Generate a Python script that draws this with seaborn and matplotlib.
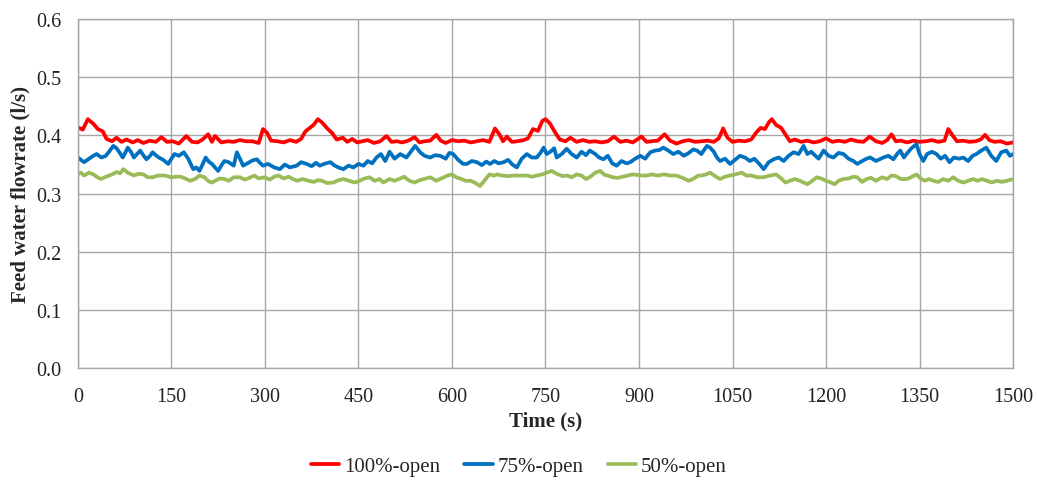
import matplotlib
matplotlib.use("Agg")
import matplotlib.pyplot as plt
import pandas as pd
import seaborn as sns

# (time s, flowrate l/s)
open_100 = [(0, 0.414), (8, 0.41), (16, 0.428), (25, 0.42), (32, 0.411), (40, 0.407), (46, 0.394), (55, 0.39),
            (62, 0.396), (70, 0.389), (78, 0.393), (88, 0.388), (96, 0.392), (105, 0.387), (115, 0.391), (125, 0.389),
            (134, 0.397), (143, 0.389), (152, 0.39), (162, 0.386), (174, 0.399), (183, 0.389), (192, 0.388), (200, 0.393),
            (209, 0.402), (215, 0.389), (220, 0.399), (230, 0.388), (240, 0.39), (250, 0.389), (260, 0.392), (270, 0.39),
            (280, 0.39), (290, 0.387), (297, 0.411), (303, 0.405), (310, 0.391), (320, 0.39), (330, 0.388), (340, 0.392),
            (350, 0.389), (358, 0.394), (365, 0.407), (372, 0.413), (378, 0.418), (385, 0.428), (392, 0.422), (400, 0.412),
            (408, 0.404), (415, 0.393), (425, 0.396), (432, 0.389), (440, 0.394), (448, 0.388), (456, 0.39), (465, 0.392),
            (475, 0.387), (485, 0.39), (495, 0.399), (503, 0.389), (512, 0.39), (520, 0.388), (530, 0.391), (540, 0.397),
            (548, 0.388), (556, 0.39), (565, 0.391), (575, 0.401), (582, 0.391), (590, 0.387), (600, 0.392), (610, 0.39),
            (620, 0.391), (630, 0.388), (640, 0.39), (650, 0.392), (660, 0.389), (669, 0.412), (676, 0.402), (682, 0.39),
            (688, 0.398), (696, 0.389), (705, 0.39), (715, 0.392), (722, 0.395), (730, 0.411), (738, 0.408), (745, 0.425),
            (750, 0.428), (757, 0.421), (765, 0.406), (773, 0.393), (782, 0.39), (790, 0.396), (800, 0.389), (810, 0.392),
            (820, 0.389), (830, 0.39), (840, 0.388), (850, 0.39), (860, 0.398), (870, 0.389), (880, 0.391), (890, 0.388),
            (904, 0.398), (912, 0.389), (920, 0.39), (930, 0.391), (941, 0.402), (950, 0.391), (960, 0.386), (970, 0.39),
            (980, 0.392), (990, 0.389), (1000, 0.39), (1010, 0.391), (1020, 0.389), (1028, 0.395), (1035, 0.412),
            (1042, 0.396), (1050, 0.389), (1060, 0.391), (1070, 0.39), (1080, 0.393), (1088, 0.405), (1095, 0.413),
            (1102, 0.411), (1108, 0.422), (1113, 0.428), (1120, 0.418), (1128, 0.413), (1136, 0.4), (1142, 0.39),
            (1150, 0.393), (1160, 0.389), (1170, 0.391), (1180, 0.388), (1190, 0.39), (1200, 0.395), (1210, 0.389),
            (1220, 0.391), (1230, 0.389), (1240, 0.393), (1250, 0.39), (1260, 0.389), (1270, 0.398), (1280, 0.39),
            (1290, 0.387), (1298, 0.392), (1305, 0.402), (1312, 0.39), (1320, 0.391), (1330, 0.388), (1340, 0.391),
            (1350, 0.389), (1360, 0.39), (1370, 0.392), (1380, 0.389), (1390, 0.391), (1396, 0.411), (1403, 0.4),
            (1410, 0.39), (1420, 0.391), (1430, 0.389), (1440, 0.39), (1448, 0.393), (1455, 0.401), (1462, 0.392),
            (1470, 0.389), (1480, 0.39), (1490, 0.386), (1500, 0.388)]

open_75 = [(0, 0.362), (5, 0.358), (10, 0.354), (18, 0.36), (25, 0.365), (30, 0.368), (38, 0.362), (45, 0.365),
           (52, 0.375), (57, 0.382), (62, 0.378), (66, 0.372), (72, 0.362), (76, 0.37), (80, 0.379), (85, 0.372),
           (90, 0.362), (95, 0.368), (100, 0.374), (105, 0.366), (110, 0.359), (115, 0.364), (120, 0.371), (125, 0.366),
           (130, 0.362), (137, 0.358), (145, 0.351), (150, 0.36), (155, 0.368), (162, 0.365), (170, 0.371), (177, 0.36),
           (185, 0.342), (190, 0.345), (195, 0.339), (200, 0.35), (205, 0.362), (210, 0.355), (215, 0.351), (220, 0.345),
           (225, 0.339), (230, 0.348), (235, 0.356), (242, 0.354), (250, 0.348), (255, 0.371), (260, 0.36), (265, 0.348),
           (272, 0.352), (280, 0.357), (287, 0.359), (292, 0.353), (297, 0.348), (305, 0.351), (315, 0.345), (324, 0.342),
           (332, 0.35), (340, 0.345), (351, 0.348), (358, 0.354), (367, 0.351), (375, 0.347), (382, 0.353), (388, 0.348),
           (395, 0.351), (405, 0.354), (412, 0.348), (420, 0.344), (426, 0.342), (434, 0.348), (442, 0.345), (450, 0.351),
           (458, 0.348), (465, 0.356), (472, 0.352), (479, 0.362), (486, 0.368), (493, 0.356), (500, 0.372), (508, 0.36),
           (517, 0.368), (527, 0.362), (534, 0.372), (541, 0.382), (549, 0.371), (556, 0.365), (565, 0.362), (573, 0.366),
           (581, 0.365), (590, 0.36), (596, 0.37), (602, 0.368), (610, 0.358), (618, 0.351), (624, 0.351), (632, 0.356),
           (640, 0.354), (648, 0.349), (655, 0.355), (661, 0.351), (668, 0.356), (675, 0.352), (683, 0.354), (690, 0.358),
           (697, 0.35), (704, 0.345), (712, 0.36), (720, 0.368), (728, 0.362), (736, 0.362), (742, 0.37), (747, 0.379),
           (752, 0.368), (758, 0.372), (764, 0.378), (768, 0.362), (776, 0.368), (784, 0.377), (792, 0.368), (800, 0.362),
           (808, 0.372), (815, 0.366), (821, 0.374), (830, 0.368), (836, 0.362), (843, 0.359), (850, 0.365), (857, 0.352),
           (864, 0.348), (872, 0.356), (880, 0.352), (886, 0.354), (894, 0.36), (902, 0.365), (910, 0.36), (918, 0.371),
           (926, 0.374), (933, 0.375), (939, 0.379), (947, 0.374), (955, 0.368), (963, 0.372), (972, 0.365), (980, 0.37),
           (987, 0.376), (993, 0.374), (1000, 0.368), (1009, 0.382), (1014, 0.379), (1020, 0.372), (1025, 0.362),
           (1030, 0.356), (1038, 0.36), (1046, 0.351), (1054, 0.358), (1062, 0.365), (1070, 0.362), (1078, 0.356),
           (1085, 0.36), (1092, 0.352), (1100, 0.342), (1108, 0.354), (1116, 0.359), (1124, 0.362), (1132, 0.356),
           (1140, 0.365), (1148, 0.371), (1156, 0.368), (1164, 0.382), (1170, 0.368), (1176, 0.372), (1180, 0.368),
           (1188, 0.36), (1196, 0.374), (1204, 0.365), (1212, 0.362), (1220, 0.37), (1228, 0.368), (1236, 0.36),
           (1244, 0.356), (1250, 0.351), (1258, 0.356), (1265, 0.36), (1271, 0.362), (1280, 0.356), (1292, 0.362),
           (1300, 0.365), (1308, 0.359), (1314, 0.368), (1319, 0.374), (1325, 0.362), (1329, 0.368), (1337, 0.378),
           (1345, 0.385), (1350, 0.368), (1356, 0.356), (1362, 0.368), (1370, 0.372), (1377, 0.368), (1384, 0.36),
           (1391, 0.365), (1398, 0.354), (1405, 0.362), (1413, 0.36), (1420, 0.362), (1428, 0.356), (1435, 0.365),
           (1441, 0.368), (1449, 0.374), (1457, 0.379), (1465, 0.365), (1473, 0.356), (1481, 0.371), (1489, 0.374),
           (1495, 0.365), (1500, 0.368)]

open_50 = [(0, 0.333), (5, 0.336), (10, 0.331), (18, 0.336), (25, 0.333), (30, 0.329), (37, 0.325), (45, 0.329),
           (55, 0.333), (62, 0.337), (68, 0.335), (73, 0.342), (80, 0.336), (90, 0.331), (97, 0.334), (105, 0.333),
           (112, 0.328), (120, 0.328), (128, 0.331), (140, 0.331), (150, 0.328), (158, 0.329), (165, 0.329), (172, 0.326),
           (180, 0.322), (188, 0.325), (195, 0.331), (203, 0.328), (210, 0.321), (215, 0.319), (222, 0.323), (228, 0.326),
           (235, 0.325), (242, 0.322), (250, 0.328), (260, 0.328), (268, 0.324), (275, 0.327), (283, 0.331), (290, 0.326),
           (300, 0.328), (308, 0.324), (315, 0.329), (322, 0.331), (330, 0.326), (338, 0.329), (345, 0.325), (352, 0.322),
           (360, 0.325), (370, 0.322), (378, 0.32), (385, 0.323), (392, 0.322), (400, 0.318), (410, 0.319), (418, 0.323),
           (426, 0.325), (435, 0.322), (444, 0.319), (452, 0.322), (460, 0.326), (468, 0.328), (476, 0.322), (484, 0.325),
           (490, 0.319), (500, 0.325), (508, 0.322), (515, 0.325), (523, 0.329), (532, 0.322), (540, 0.319), (548, 0.323),
           (555, 0.325), (565, 0.328), (575, 0.322), (585, 0.327), (593, 0.331), (600, 0.333), (607, 0.328), (615, 0.325),
           (622, 0.322), (630, 0.322), (638, 0.318), (645, 0.313), (652, 0.322), (660, 0.333), (667, 0.331), (673, 0.333),
           (680, 0.331), (690, 0.33), (700, 0.331), (710, 0.331), (720, 0.331), (728, 0.329), (736, 0.331), (745, 0.333),
           (752, 0.336), (760, 0.339), (766, 0.335), (770, 0.333), (778, 0.33), (785, 0.331), (792, 0.328), (800, 0.333),
           (808, 0.331), (815, 0.325), (822, 0.329), (830, 0.336), (838, 0.339), (845, 0.332), (850, 0.331), (858, 0.328),
           (866, 0.327), (874, 0.329), (882, 0.331), (890, 0.333), (898, 0.332), (905, 0.331), (913, 0.331), (920, 0.333),
           (930, 0.331), (940, 0.333), (950, 0.331), (960, 0.331), (970, 0.327), (980, 0.322), (988, 0.326), (995, 0.331),
           (1000, 0.331), (1008, 0.333), (1014, 0.336), (1022, 0.33), (1030, 0.325), (1038, 0.329), (1046, 0.331),
           (1054, 0.333), (1065, 0.336), (1072, 0.331), (1080, 0.331), (1090, 0.328), (1100, 0.328), (1110, 0.331),
           (1120, 0.333), (1128, 0.326), (1135, 0.319), (1142, 0.322), (1150, 0.325), (1158, 0.322), (1164, 0.319),
           (1170, 0.316), (1178, 0.322), (1185, 0.328), (1192, 0.326), (1200, 0.322), (1208, 0.319), (1214, 0.316),
           (1220, 0.322), (1228, 0.325), (1236, 0.326), (1244, 0.329), (1250, 0.328), (1258, 0.32), (1265, 0.325),
           (1272, 0.327), (1280, 0.322), (1290, 0.328), (1298, 0.325), (1305, 0.331), (1312, 0.33), (1320, 0.325),
           (1330, 0.325), (1338, 0.329), (1345, 0.333), (1352, 0.326), (1358, 0.322), (1365, 0.325), (1372, 0.322),
           (1380, 0.32), (1388, 0.325), (1396, 0.322), (1404, 0.328), (1412, 0.322), (1420, 0.319), (1428, 0.322),
           (1436, 0.325), (1443, 0.322), (1450, 0.325), (1458, 0.322), (1466, 0.319), (1474, 0.322), (1482, 0.32),
           (1490, 0.322), (1500, 0.325)]

series_names = ["100%-open", "75%-open", "50%-open"]
colors = ["#FF0000", "#0070C0", "#9BBB59"]

frames = []
for name, pts in zip(series_names, [open_100, open_75, open_50]):
    d = pd.DataFrame(pts, columns=["time", "flow"])
    d["series"] = name
    frames.append(d)
data = pd.concat(frames, ignore_index=True)

sns.set_style("white")
plt.rcParams['font.family'] = ['Liberation Serif', 'DejaVu Serif']

fig = plt.figure(figsize=(10.38, 4.81), dpi=100)
ax = fig.add_axes([0.075, 0.233, 0.901, 0.725])

sns.lineplot(data=data, x="time", y="flow", hue="series", hue_order=series_names,
             palette=colors, linewidth=2.7, ax=ax, legend=False, sort=True)

ax.set_xlim(0, 1500)
ax.set_ylim(0, 0.6)
ax.set_xticks(range(0, 1501, 150))
ax.set_yticks([0.0, 0.1, 0.2, 0.3, 0.4, 0.5, 0.6])
ax.set_yticklabels([f"{v:.1f}" for v in [0.0, 0.1, 0.2, 0.3, 0.4, 0.5, 0.6]])
ax.grid(True, color="#A6A6A6", linewidth=1.0)
ax.set_axisbelow(True)
for s in ax.spines.values():
    s.set_color("#A6A6A6")
    s.set_linewidth(1.0)
ax.tick_params(length=0, labelsize=14.5, colors="#222222")
ax.tick_params(axis="x", pad=14)
ax.tick_params(axis="y", pad=12)

ax.set_xlabel("Time (s)", fontsize=15, fontweight="bold", labelpad=3)
ax.set_ylabel("Feed water flowrate (l/s)", fontsize=15, fontweight="bold", labelpad=4)

handles = [plt.Line2D([], [], color=c, linewidth=2.7) for c in colors]
fig.legend(handles, series_names, loc="center", bbox_to_anchor=(0.5, 0.028), ncol=3,
           frameon=False, fontsize=15, handlelength=1.35, handletextpad=0.25, columnspacing=1.15)

fig.savefig("out.png", dpi=100)
